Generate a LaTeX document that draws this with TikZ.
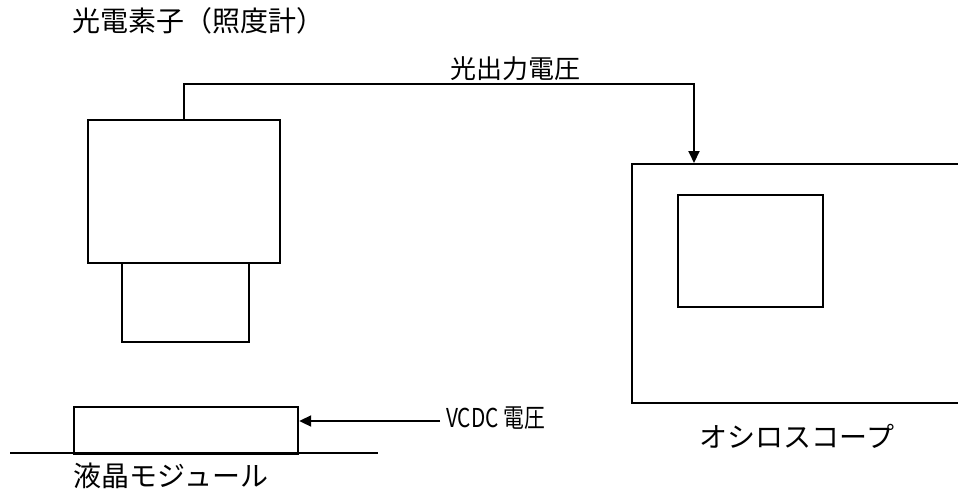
\documentclass[tikz,border=0pt]{standalone}
\usepackage{fontspec}
\setmainfont{Liberation Serif}
\newfontfamily\cjk{Noto Sans CJK JP}
\usetikzlibrary{arrows.meta}
\tikzset{
  box/.style={draw, line width=2.2pt, inner sep=0pt, anchor=north west},
  wire/.style={line width=2pt},
  arr/.style={wire, -{Triangle[length=12pt,width=11pt]}},
  lbl/.style={inner sep=0pt, font=\cjk\fontsize{28}{32}\selectfont},
}
\begin{document}
\begin{tikzpicture}[x=1pt,y=-1pt]
\useasboundingbox (0,0) rectangle (958,501);
\clip (0,0) rectangle (958,501);
% photo sensor
\node[box, minimum width=192pt, minimum height=143pt] (head) at (87,119) {};
\node[box, minimum width=127pt, minimum height=79pt] (body) at (121,262) {};
% oscilloscope
\node[box, minimum width=400pt, minimum height=239pt] (scope) at (631,163) {};
\node[box, minimum width=145pt, minimum height=112pt] (screen) at (677,194) {};
% LCD module
\node[box, minimum width=224pt, minimum height=47pt] (lcd) at (73,406) {};
\coordinate (gl) at (10,453);
\coordinate (gr) at (378,453);
\draw[wire] (gl) -- (gr);
% connectors
\coordinate (top) at (694,84);
\coordinate (tip) at (694,163);
\draw[arr] (head.north) |- (top) -- (tip);
\coordinate (vsrc) at (440,421);
\draw[arr] (vsrc) -- (lcd.east |- vsrc);
% labels
\node[lbl, anchor=west] (t1) at (72,21) {光電素子（照度計）};
\node[lbl] (t2) at (515,69) {\fontsize{26}{30}\selectfont 光出力電圧};
\node[lbl, anchor=west] (t3) at (446,418) {\fontsize{26}{30}\selectfont\addfontfeature{FakeStretch=0.8}VCDC 電圧};
\node[lbl] (t4) at (171,476) {液晶モジュール};
\node[lbl] (t5) at (797,436) {オシロスコープ};
\end{tikzpicture}
\end{document}
